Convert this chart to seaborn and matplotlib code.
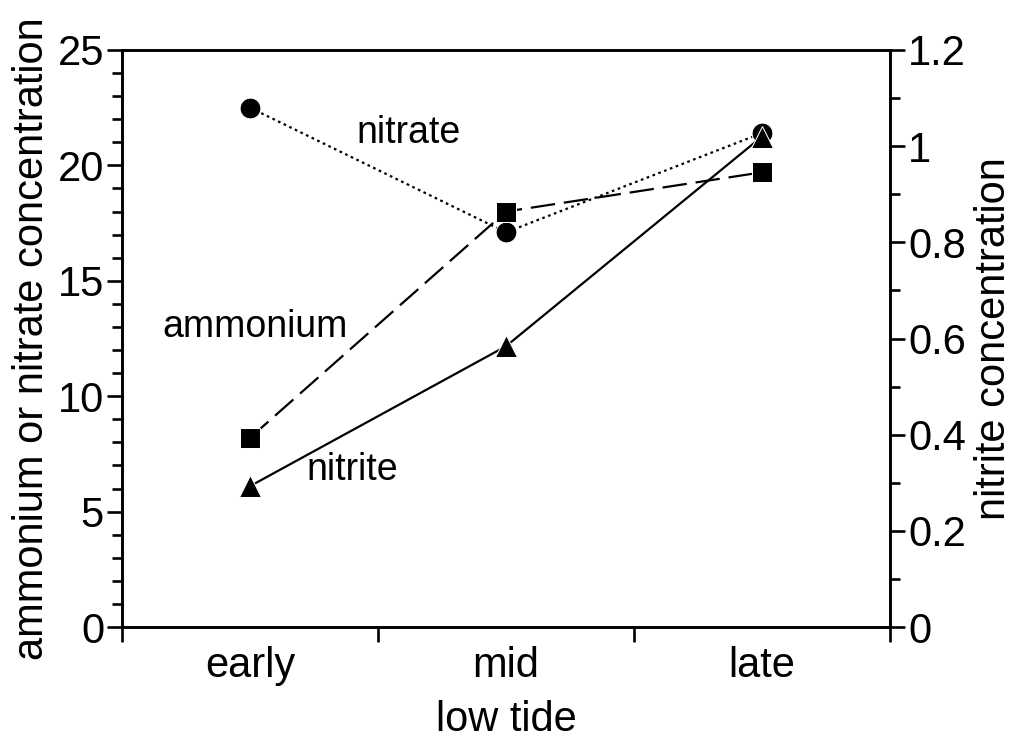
import matplotlib
matplotlib.use('Agg')
import matplotlib.pyplot as plt
from matplotlib.ticker import MultipleLocator, FixedLocator, NullFormatter
import pandas as pd
import seaborn as sns

tide = ['early', 'mid', 'late']
nitrate = [22.5, 17.1, 21.4]
ammonium = [8.2, 18.0, 19.7]
nitrite = [0.293, 0.584, 1.02]

df = pd.DataFrame({'tide': tide, 'nitrate': nitrate, 'ammonium': ammonium, 'nitrite': nitrite})

sns.set_style('ticks')
plt.rcParams['font.family'] = ['Liberation Sans', 'DejaVu Sans']
plt.rcParams['text.color'] = 'black'
plt.rcParams['axes.labelcolor'] = 'black'
plt.rcParams['xtick.color'] = 'black'
plt.rcParams['ytick.color'] = 'black'

fig = plt.figure(figsize=(10.26, 7.55), dpi=100)
ax = fig.add_axes([0.119, 0.1695, 0.7484, 0.7643])
ax2 = ax.twinx()

sns.lineplot(data=df, x='tide', y='nitrate', ax=ax, color='black', lw=1.6,
             marker='o', markersize=15, linestyle=(0, (1.2, 1.6)), sort=False)
sns.lineplot(data=df, x='tide', y='ammonium', ax=ax, color='black', lw=1.6,
             marker='s', markersize=15, linestyle=(0, (11, 4)), sort=False)
sns.lineplot(data=df, x='tide', y='nitrite', ax=ax2, color='black', lw=1.6,
             marker='^', markersize=16, linestyle='-', sort=False)

ax.set_xlim(-0.5, 2.5)
ax.set_ylim(0, 25)
ax2.set_ylim(0, 1.2)

# ticks at category edges, labels centered
ax.xaxis.set_major_locator(FixedLocator([-0.5, 0.5, 1.5, 2.5]))
ax.xaxis.set_major_formatter(NullFormatter())
ax.xaxis.set_minor_locator(FixedLocator([0, 1, 2]))
ax.set_xticklabels(tide, minor=True)
ax.tick_params(axis='x', which='minor', length=0, pad=14, labelsize=30)
ax.tick_params(axis='x', which='major', length=11, width=1.9, direction='out')

ax.yaxis.set_major_locator(MultipleLocator(5))
ax.yaxis.set_minor_locator(MultipleLocator(1))
ax.tick_params(axis='y', which='major', length=11, width=1.9, labelsize=30, pad=2)
ax.tick_params(axis='y', which='minor', length=7, width=1.9)

ax2.yaxis.set_major_locator(MultipleLocator(0.2))
ax2.yaxis.set_minor_locator(MultipleLocator(0.1))
ax2.set_yticks([0, 0.2, 0.4, 0.6, 0.8, 1.0, 1.2])
ax2.set_yticklabels(['0', '0.2', '0.4', '0.6', '0.8', '1', '1.2'])
ax2.tick_params(axis='y', which='major', length=11, width=1.9, labelsize=30, pad=2)
ax2.tick_params(axis='y', which='minor', length=7, width=1.9)

for a in (ax, ax2):
    for s in a.spines.values():
        s.set_linewidth(1.9)
        s.set_color('black')

ax.set_xlabel('low tide', fontsize=30, labelpad=10)
ax.set_ylabel('ammonium or nitrate concentration', fontsize=30, labelpad=4)
ax2.set_ylabel('nitrite concentration', fontsize=30, labelpad=6)

ax.text(0.62, 21.4, 'nitrate', fontsize=27, ha='center', va='center')
ax.text(0.02, 13.0, 'ammonium', fontsize=27, ha='center', va='center')
ax.text(0.40, 6.8, 'nitrite', fontsize=27, ha='center', va='center')

fig.savefig('out.png', dpi=100)
